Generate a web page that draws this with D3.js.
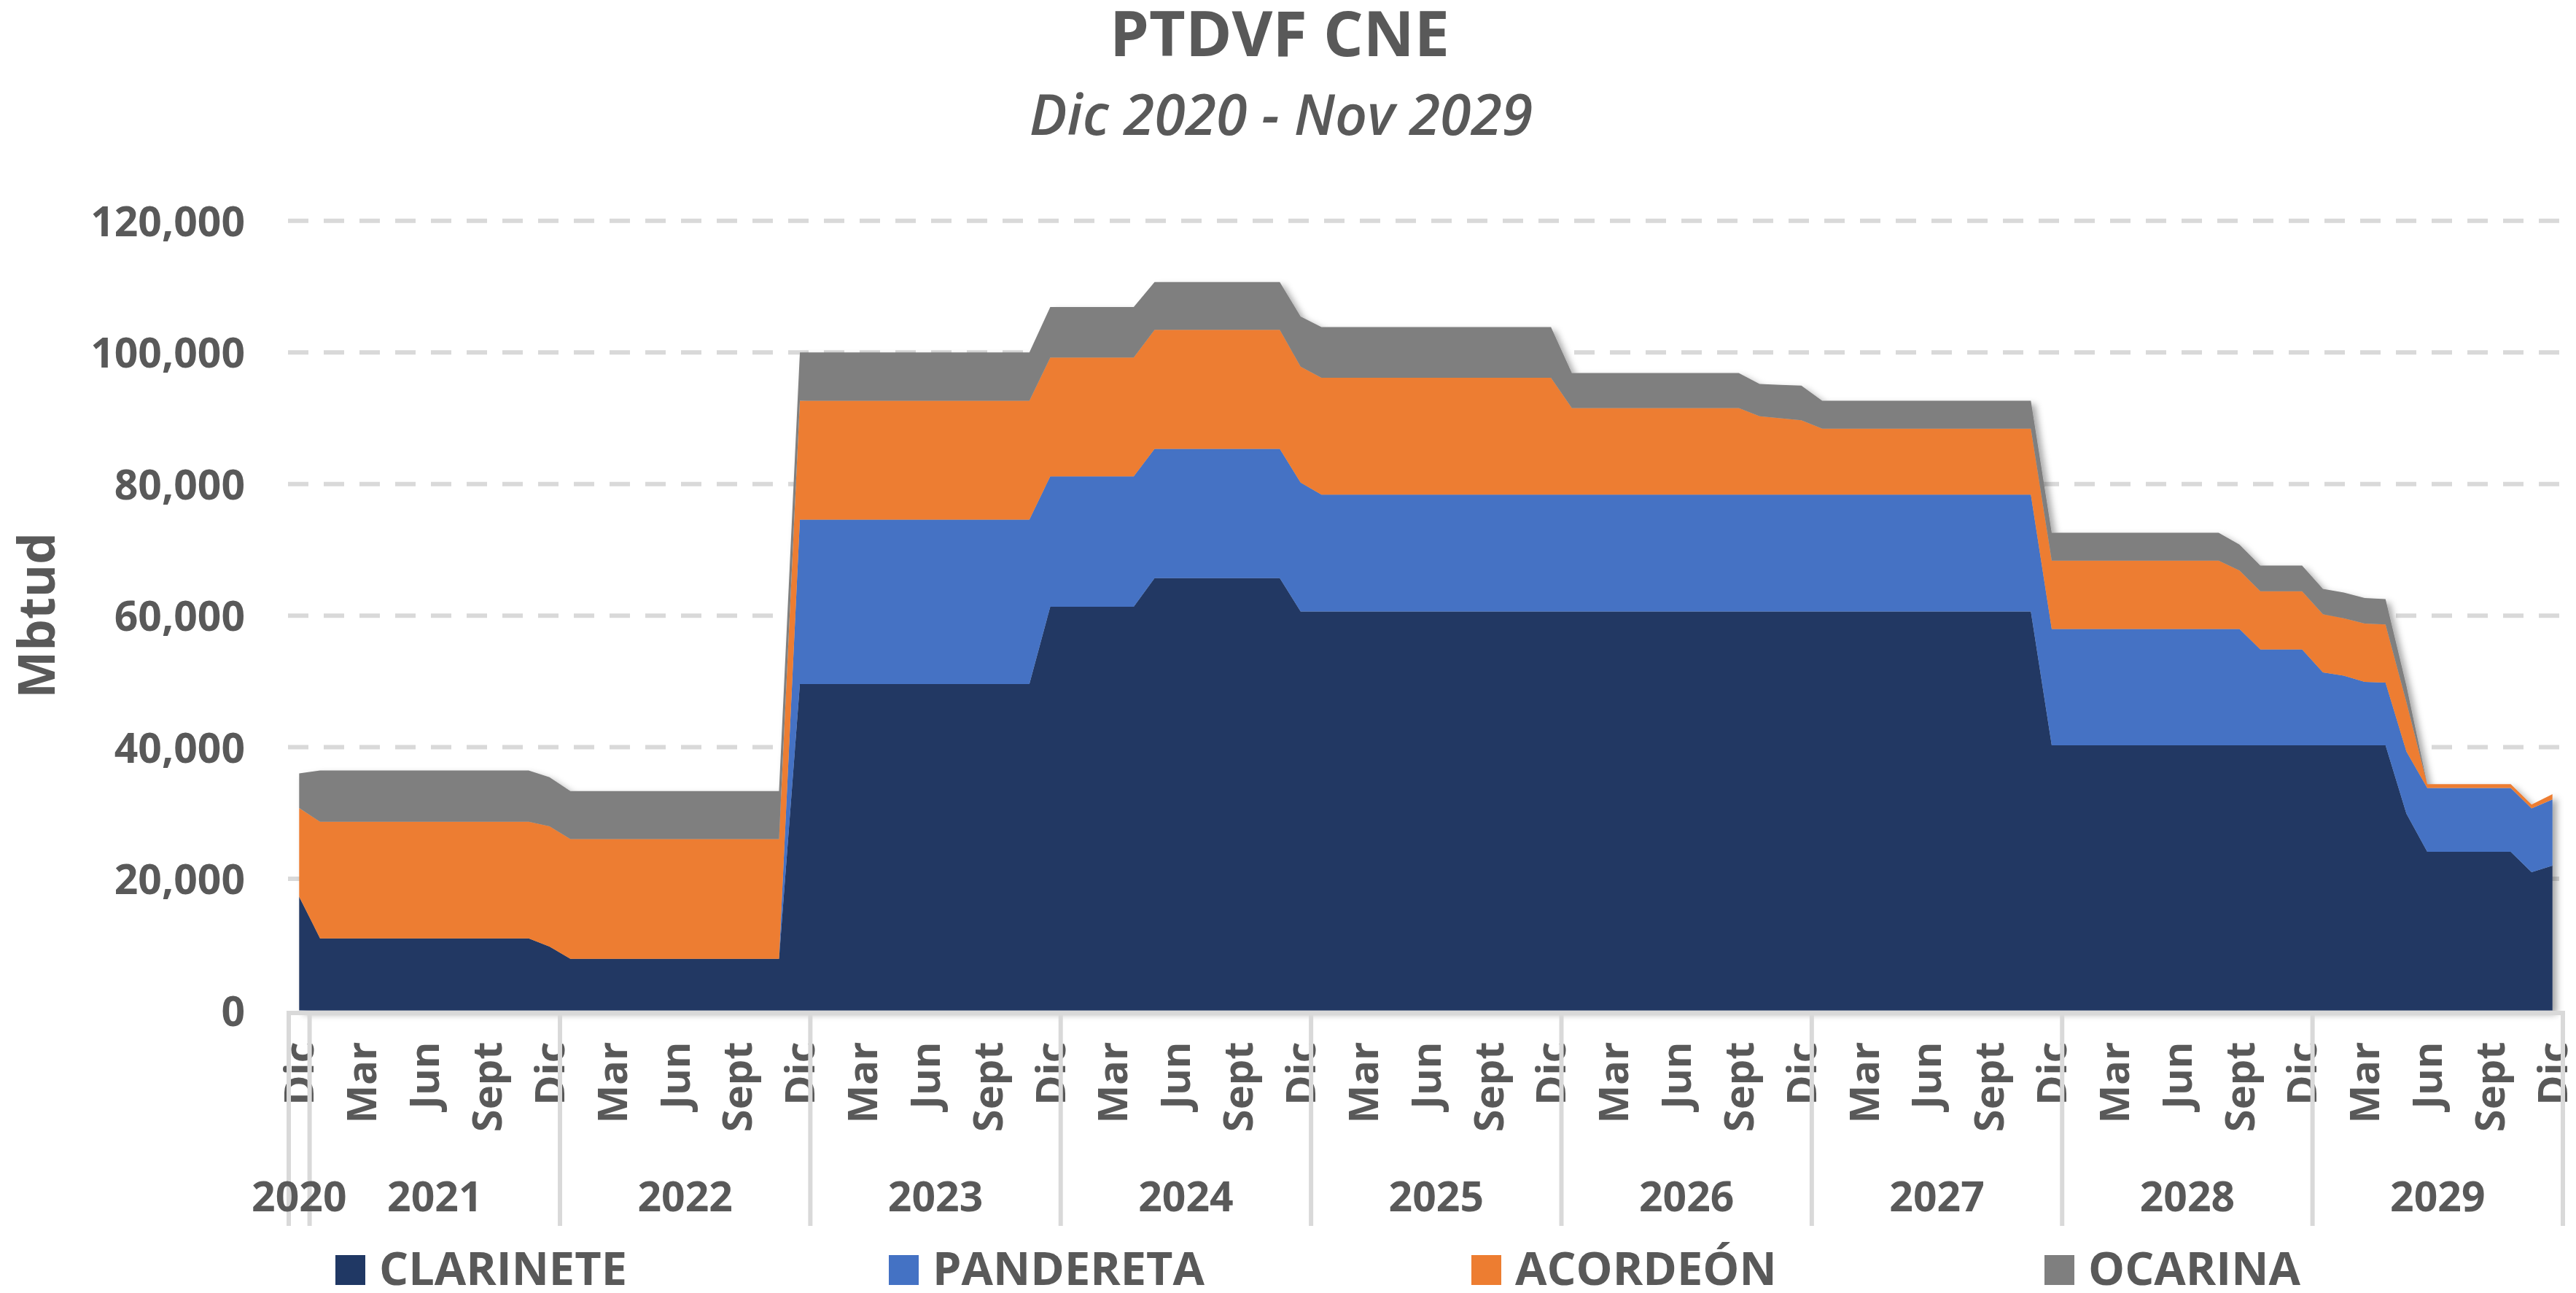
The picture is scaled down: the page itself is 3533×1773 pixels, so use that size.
<!DOCTYPE html>
<html><head><meta charset="utf-8">
<script src="https://cdn.jsdelivr.net/npm/d3@7"></script>
<style>
body{margin:0;background:#fff}
svg text{font-family:"Open Sans",sans-serif;fill:#595959}
</style>
</head><body>
<svg id="chart" width="3533" height="1773"></svg>
<script>
// ---------- DATA ----------
const seriesNames = ["CLARINETE","PANDERETA","ACORDEÓN","OCARINA"];
const seriesColors = ["#203864","#4472C4","#ED7D31","#7F7F7F"];
const yearLabels = ["2020","2021","2022","2023","2024","2025","2026","2027","2028","2029"];
const monthAbbr = ["Ene","Feb","Mar","Abr","May","Jun","Jul","Ago","Sept","Oct","Nov","Dic"];
const yTicks = [0,20000,40000,60000,80000,100000,120000];

// monthly values, Dic 2020 .. Dic 2029 (one row per year)
const clarinete = [
  17300,
  10950,10950,10950,10950,10950,10950,10950,10950,10950,10950,10950,9700,
  7850,7850,7850,7850,7850,7850,7850,7850,7850,7850,7850,49600,
  49600,49600,49600,49600,49600,49600,49600,49600,49600,49600,49600,61350,
  61350,61350,61350,61350,65700,65700,65700,65700,65700,65700,65700,60630,
  60630,60630,60630,60630,60630,60630,60630,60630,60630,60630,60630,60630,
  60630,60630,60630,60630,60630,60630,60630,60630,60630,60630,60630,60630,
  60630,60630,60630,60630,60630,60630,60630,60630,60630,60630,60630,40300,
  40300,40300,40300,40300,40300,40300,40300,40300,40300,40300,40300,40300,
  40300,40300,40300,40300,29900,24120,24120,24120,24120,24120,21000,22000
];
const pandereta = [
  0,
  0,0,0,0,0,0,0,0,0,0,0,0,
  0,0,0,0,0,0,0,0,0,0,0,25000,
  25000,25000,25000,25000,25000,25000,25000,25000,25000,25000,25000,19800,
  19800,19800,19800,19800,19630,19630,19630,19630,19630,19630,19630,19600,
  17770,17770,17770,17770,17770,17770,17770,17770,17770,17770,17770,17770,
  17770,17770,17770,17770,17770,17770,17770,17770,17770,17770,17770,17770,
  17770,17770,17770,17770,17770,17770,17770,17770,17770,17770,17770,17660,
  17660,17660,17660,17660,17660,17660,17660,17660,17660,14570,14570,14570,
  11060,10570,9640,9520,9450,9690,9690,9690,9690,9690,9700,10070
];
const acordeon = [
  13450,
  17740,17740,17740,17740,17740,17740,17740,17740,17740,17740,17740,18290,
  18200,18200,18200,18200,18200,18200,18200,18200,18200,18200,18200,18070,
  18070,18070,18070,18070,18070,18070,18070,18070,18070,18070,18070,18070,
  18070,18070,18070,18070,18110,18110,18110,18110,18110,18110,18110,17610,
  17740,17740,17740,17740,17740,17740,17740,17740,17740,17740,17740,17740,
  13150,13150,13150,13150,13150,13150,13150,13150,13150,11890,11590,11290,
  10020,10020,10020,10020,10020,10020,10020,10020,10020,10020,10020,10390,
  10390,10390,10390,10390,10390,10390,10390,10390,8910,8830,8830,8830,
  8850,8730,8870,8840,7500,590,590,590,590,590,580,780
];
const ocarina = [
  5280,
  7770,7770,7770,7770,7770,7770,7770,7770,7770,7770,7770,7460,
  7280,7280,7280,7280,7280,7280,7280,7280,7280,7280,7280,7340,
  7340,7340,7340,7340,7340,7340,7340,7340,7340,7340,7340,7670,
  7670,7670,7670,7670,7260,7260,7260,7260,7260,7260,7260,7630,
  7720,7720,7720,7720,7720,7720,7720,7720,7720,7720,7720,7720,
  5310,5310,5310,5310,5310,5310,5310,5310,5310,4910,5080,5260,
  4240,4240,4240,4240,4240,4240,4240,4240,4240,4240,4240,4240,
  4240,4240,4240,4240,4240,4240,4240,4240,3930,3900,3900,3900,
  3850,3900,3880,3840,2500,0,0,0,0,0,0,0
];

// categories: Dic 2020, then Ene..Dic for 2021..2029
const categories = [{m: 11, y: 0}];
for (let yi = 1; yi < yearLabels.length; yi++) for (let m = 0; m < 12; m++) categories.push({m, y: yi});

// ---------- LAYOUT ----------
const svg = d3.select("#chart");
const W = 3533, H = 1773;
const plotL = 396, plotR = 3515, plotT = 302.8, plotB = 1385.5;
const axisY = 1389;

const idx = d3.range(categories.length);
const x = d3.scaleBand().domain(idx).range([plotL, plotR]).paddingInner(0).paddingOuter(0);
const bw = x.bandwidth();
const xc = i => x(i) + bw / 2;
const y = d3.scaleLinear().domain([0, 120000]).range([plotB, plotT]);

const table = idx.map(i => ({
  i,
  CLARINETE: clarinete[i], PANDERETA: pandereta[i], "ACORDEÓN": acordeon[i], OCARINA: ocarina[i]
}));
const stacked = d3.stack().keys(seriesNames)(table);

// defs: shadow
const defs = svg.append("defs");
const f = defs.append("filter").attr("id","shadow").attr("x","-5%").attr("y","-5%").attr("width","110%").attr("height","115%");
f.append("feDropShadow").attr("dx",6).attr("dy",5).attr("stdDeviation",5)
  .attr("flood-color","#000").attr("flood-opacity",0.35);

// title
svg.append("text").attr("x",1755).attr("y",77).attr("text-anchor","middle")
  .style("font-size","86px").style("font-weight","700").text("PTDVF CNE");
svg.append("text").attr("x",1757).attr("y",185).attr("text-anchor","middle")
  .style("font-size","77px").style("font-style","italic").style("font-weight","600").text("Dic 2020 - Nov 2029");

// gridlines
svg.append("g").selectAll("line").data(yTicks.filter(d => d > 0)).join("line")
  .attr("x1", plotL - 1).attr("x2", plotR).attr("y1", d => y(d)).attr("y2", d => y(d))
  .attr("stroke","#D9D9D9").attr("stroke-width",6).attr("stroke-dasharray","28,21");

// areas
const area = d3.area().x(d => xc(d.data.i)).y0(d => y(d[0])).y1(d => y(d[1]));
svg.append("g").attr("filter","url(#shadow)")
  .selectAll("path").data(stacked).join("path")
  .attr("fill", (d, k) => seriesColors[k]).attr("d", area);

// x axis line
svg.append("line").attr("x1", plotL - 3).attr("x2", plotR + 3).attr("y1", axisY).attr("y2", axisY)
  .attr("stroke","#D9D9D9").attr("stroke-width",6);

// y axis labels
const yAxis = svg.append("g").attr("transform",`translate(${plotL},0)`)
  .call(d3.axisLeft(y).tickValues(yTicks).tickFormat(d3.format(",")).tickSize(0).tickPadding(60));
yAxis.select(".domain").remove();
yAxis.selectAll("text").style("font-size","57px").style("font-weight","700").style("font-family","'Open Sans',sans-serif").attr("fill","#595959").attr("dy","0.36em");

// month labels (every 3 months)
const monthTicks = idx.filter(i => i % 3 === 0);
const xAxis = svg.append("g").attr("transform",`translate(0,${plotB})`)
  .call(d3.axisBottom(x).tickValues(monthTicks).tickFormat(i => monthAbbr[categories[i].m]).tickSize(0));
xAxis.select(".domain").remove();
xAxis.selectAll("text")
  .attr("transform","rotate(-90)").attr("x",-43).attr("y",0).attr("dy","0.36em")
  .attr("text-anchor","end").attr("fill","#595959")
  .style("font-size","56px").style("font-weight","700").style("font-family","'Open Sans',sans-serif");

// year separators and labels
const groups = yearLabels.map((lab, yi) => {
  const members = idx.filter(i => categories[i].y === yi);
  return {lab, s: members[0], e: members[members.length - 1]};
});
const sepX = groups.map(g => x(g.s)).concat([x(groups[groups.length-1].e) + bw]);
svg.append("g").selectAll("line").data(sepX).join("line")
  .attr("x1", d => d).attr("x2", d => d).attr("y1", axisY).attr("y2", 1681)
  .attr("stroke","#D9D9D9").attr("stroke-width",6);
svg.append("g").selectAll("text").data(groups).join("text")
  .attr("x", g => (x(g.s) + x(g.e) + bw) / 2).attr("y", 1661).attr("text-anchor","middle")
  .style("font-size","57px").style("font-weight","700").text(g => g.lab);

// y axis title
svg.append("text").attr("transform","translate(50,844) rotate(-90)").attr("text-anchor","middle").attr("dy","0.36em")
  .style("font-size","69px").style("font-weight","700").text("Mbtud");

// legend
const legendX = [460, 1219, 2018, 2804];
const leg = svg.append("g").selectAll("g").data(seriesNames).join("g")
  .attr("transform", (d, k) => `translate(${legendX[k]},1721)`);
leg.append("rect").attr("width",41).attr("height",41).attr("fill",(d,k) => seriesColors[k]);
leg.append("text").attr("x",60).attr("y",41).style("font-size","63px").style("font-weight","700").text(d => d);
</script>
</body></html>
